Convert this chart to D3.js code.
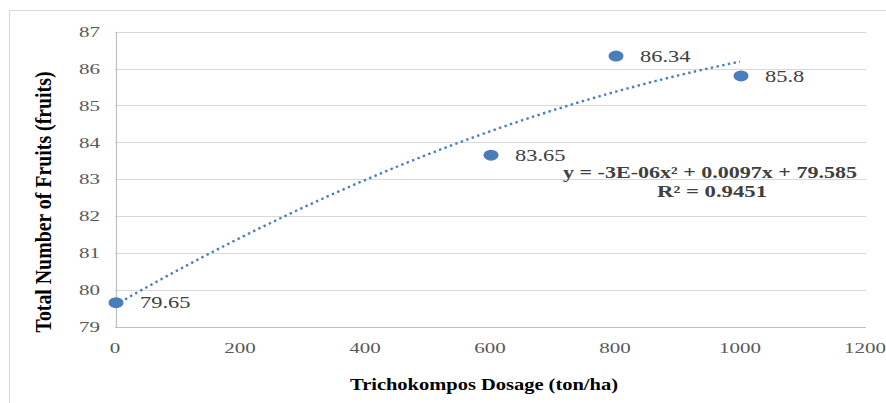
<!DOCTYPE html>
<html>
<head>
<meta charset="utf-8">
<script src="https://cdn.jsdelivr.net/npm/d3@7"></script>
<style>
  body { margin: 0; background: #fff; }
  text { font-family: "Liberation Serif", "Times New Roman", serif; }
</style>
</head>
<body>
<svg width="886" height="403"></svg>
<script>
var dosage = [0, 600, 800, 1000];
var fruits = [79.65, 83.65, 86.34, 85.8];
var xTicks = [0, 200, 400, 600, 800, 1000, 1200];
var yTicks = [79, 80, 81, 82, 83, 84, 85, 86, 87];
var eqLines = ["y = -3E-06x\u00b2 + 0.0097x + 79.585", "R\u00b2 = 0.9451"];

var svg = d3.select("svg"),
  width = +svg.attr("width"),
  height = +svg.attr("height");

var stretch = 1.4; // the reference is wider than tall, text looks stretched

function widen(sel, len) {
  sel.attr("lengthAdjust", "spacingAndGlyphs")
    .each(function() {
      this.setAttribute("textLength", len || this.getComputedTextLength() * stretch);
    });
}

var x = d3.scaleLinear().domain([0, 1200]).range([115, 865]);
var y = d3.scaleLinear().domain([79, 87]).range([326.7, 31.7]);

// outer frame
svg.append("path")
  .attr("d", "M9.5,403V10.5H886")
  .attr("fill", "none")
  .attr("stroke", "#d9d9d9");

// grid
svg.append("g").selectAll("line")
  .data(yTicks)
  .enter().append("line")
  .attr("x1", x(0)).attr("x2", 866)
  .attr("y1", function(d) { return Math.round(y(d)) + 0.5; })
  .attr("y2", function(d) { return Math.round(y(d)) + 0.5; })
  .attr("stroke", function(d) { return d == 79 ? "#bfbfbf" : "#d9d9d9"; })
  .attr("stroke-width", 1.2);

svg.append("line")
  .attr("x1", 116.5).attr("x2", 116.5)
  .attr("y1", y(87)).attr("y2", y(79))
  .attr("stroke", "#bfbfbf").attr("stroke-width", 1.2);

// tick labels
svg.append("g").selectAll("text")
  .data(yTicks)
  .enter().append("text")
  .attr("x", 100)
  .attr("y", function(d) { return y(d); })
  .attr("dy", "0.35em")
  .attr("text-anchor", "end")
  .attr("font-size", 15)
  .attr("fill", "#595959")
  .text(function(d) { return d; })
  .call(widen);

svg.append("g").selectAll("text")
  .data(xTicks)
  .enter().append("text")
  .attr("x", function(d) { return x(d); })
  .attr("y", 353)
  .attr("text-anchor", "middle")
  .attr("font-size", 15)
  .attr("fill", "#595959")
  .text(function(d) { return d; })
  .call(widen);

// quadratic trend line, least squares like the spreadsheet does
function polyfit2(xs, ys) {
  var s = [0, 0, 0, 0, 0], t = [0, 0, 0];
  xs.forEach(function(xv, i) {
    for (var k = 0; k < 5; k++) s[k] += Math.pow(xv, k);
    for (var k = 0; k < 3; k++) t[k] += Math.pow(xv, k) * ys[i];
  });
  var m = [[s[0], s[1], s[2], t[0]], [s[1], s[2], s[3], t[1]], [s[2], s[3], s[4], t[2]]];
  for (var i = 0; i < 3; i++) {
    for (var j = i + 1; j < 3; j++) {
      var f = m[j][i] / m[i][i];
      for (var k = i; k < 4; k++) m[j][k] -= f * m[i][k];
    }
  }
  var c = [0, 0, 0];
  for (var i = 2; i >= 0; i--) {
    var v = m[i][3];
    for (var k = i + 1; k < 3; k++) v -= m[i][k] * c[k];
    c[i] = v / m[i][i];
  }
  return c;
}
var coef = polyfit2(dosage, fruits);
var trend = d3.range(0, 1001, 10).map(function(d) {
  return [d, coef[0] + coef[1] * d + coef[2] * d * d];
});

svg.append("path")
  .datum(trend)
  .attr("fill", "none")
  .attr("stroke", "#4a7ebb")
  .attr("stroke-width", 2.4)
  .attr("stroke-dasharray", "2.4,3.4")
  .attr("d", d3.line()
    .x(function(d) { return x(d[0]); })
    .y(function(d) { return y(d[1]); }));

// points
var pts = dosage.map(function(d, i) { return {x: d, y: fruits[i]}; });

svg.append("g").selectAll("ellipse")
  .data(pts)
  .enter().append("ellipse")
  .attr("cx", function(d) { return x(d.x) + 1; })
  .attr("cy", function(d) { return y(d.y); })
  .attr("rx", 7.5).attr("ry", 5.5)
  .attr("fill", "#4a7ebb");

svg.append("g").selectAll("text")
  .data(pts)
  .enter().append("text")
  .attr("x", function(d) { return x(d.x) + 25; })
  .attr("y", function(d) { return y(d.y); })
  .attr("dy", "0.35em")
  .attr("font-size", 16)
  .attr("fill", "#404040")
  .text(function(d) { return d.y; })
  .call(widen);

// equation
svg.append("text")
  .attr("x", 710).attr("y", 178)
  .attr("text-anchor", "middle")
  .attr("font-size", 16).attr("font-weight", "bold")
  .attr("fill", "#404040")
  .text(eqLines[0])
  .call(widen, 294);

svg.append("text")
  .attr("x", 712).attr("y", 197)
  .attr("text-anchor", "middle")
  .attr("font-size", 16).attr("font-weight", "bold")
  .attr("fill", "#404040")
  .text(eqLines[1])
  .call(widen, 110);

// axis titles
svg.append("text")
  .attr("x", 484).attr("y", 390)
  .attr("text-anchor", "middle")
  .attr("font-size", 16).attr("font-weight", "bold")
  .attr("fill", "#000")
  .text("Trichokompos Dosage (ton/ha)")
  .call(widen, 268);

svg.append("text")
  .attr("transform", "translate(51,202) scale(1.4,1) rotate(-90)")
  .attr("text-anchor", "middle")
  .attr("font-size", 16).attr("font-weight", "bold")
  .attr("fill", "#000")
  .text("Total Number of Fruits (fruits)")
  .call(widen, 261);
</script>
</body>
</html>
